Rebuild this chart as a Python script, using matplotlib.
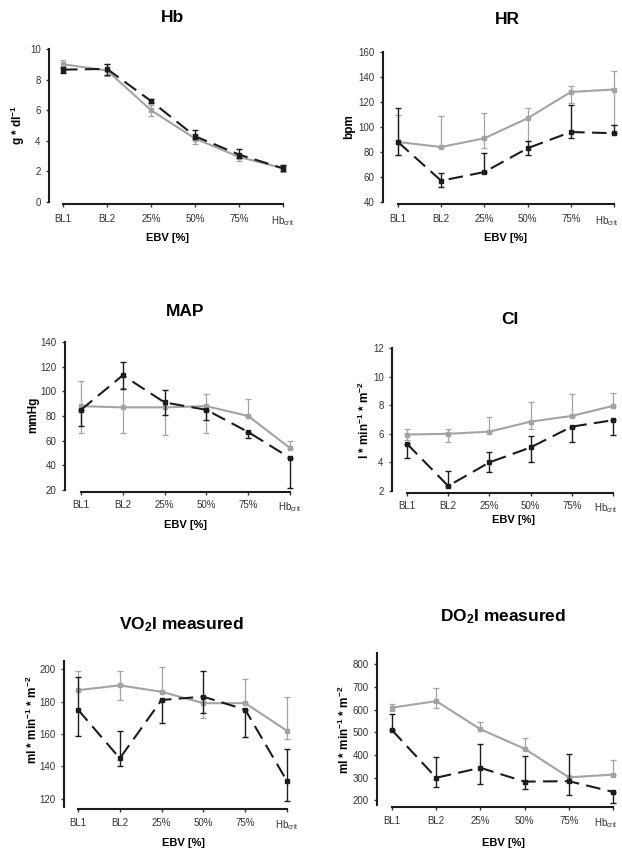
import matplotlib
matplotlib.use("Agg")
import matplotlib.pyplot as plt
import matplotlib.transforms as mtransforms

plt.rcParams['font.family'] = ['Liberation Sans', 'DejaVu Sans']
plt.rcParams['mathtext.fontset'] = 'custom'
plt.rcParams['mathtext.rm'] = 'Liberation Sans'
plt.rcParams['mathtext.it'] = 'Liberation Sans:italic'
plt.rcParams['mathtext.bf'] = 'Liberation Sans:bold'

categories = ['BL1', 'BL2', '25%', '50%', '75%', r'Hb$_{\mathrm{crit}}$']

# Hb [g/dl]
hb_black = [8.65, 8.7, 6.6, 4.3, 3.1, 2.2]
hb_black_lo = [0.25, 0.4, 0.15, 0.2, 0.2, 0.2]
hb_black_hi = [0.2, 0.3, 0.15, 0.4, 0.35, 0.2]
hb_gray = [9.0, 8.6, 6.0, 4.15, 2.95, 2.2]
hb_gray_lo = [0.3, 0.35, 0.4, 0.35, 0.25, 0.25]
hb_gray_hi = [0.3, 0.45, 0.35, 0.3, 0.2, 0.2]

# HR [bpm]
hr_black = [88, 57, 64, 83, 96, 95]
hr_black_lo = [10, 5, 0, 5, 5, 0]
hr_black_hi = [27, 6, 15, 6, 22, 7]
hr_gray = [88, 84, 91, 107, 128, 130]
hr_gray_lo = [10, 0, 8, 18, 9, 28]
hr_gray_hi = [22, 25, 20, 8, 5, 15]

# MAP [mmHg]
map_black = [85, 113, 91, 85, 67, 46]
map_black_lo = [13, 11, 10, 8, 5, 24]
map_black_hi = [0, 11, 10, 0, 0, 0]
map_gray = [88, 87, 87, 88, 80, 54]
map_gray_lo = [22, 21, 22, 22, 0, 0]
map_gray_hi = [20, 16, 0, 10, 14, 6]

# CI [l/min/m2]
ci_black = [5.3, 2.35, 4.0, 5.05, 6.5, 6.95]
ci_black_lo = [1.0, 0.0, 0.7, 1.0, 1.05, 1.05]
ci_black_hi = [0.0, 1.05, 0.75, 0.8, 0.0, 0.0]
ci_gray = [5.95, 6.0, 6.15, 6.85, 7.25, 7.95]
ci_gray_lo = [0.4, 0.55, 0.0, 0.5, 0.0, 0.0]
ci_gray_hi = [0.4, 0.35, 1.0, 1.35, 1.5, 0.9]

# VO2I [ml/min/m2]
vo2_black = [175, 145, 181, 183, 175, 131]
vo2_black_lo = [16, 5, 14, 10, 17, 12]
vo2_black_hi = [20, 17, 0, 16, 0, 20]
vo2_gray = [187, 190, 186, 179, 179, 162]
vo2_gray_lo = [0, 9, 0, 9, 0, 5]
vo2_gray_hi = [12, 9, 15, 0, 15, 21]

# DO2I [ml/min/m2]
do2_black = [510, 300, 344, 283, 285, 238]
do2_black_lo = [0, 39, 70, 32, 60, 48]
do2_black_hi = [70, 92, 105, 111, 120, 0]
do2_gray = [609, 638, 514, 428, 302, 314]
do2_gray_lo = [15, 32, 0, 0, 0, 0]
do2_gray_hi = [15, 58, 31, 46, 0, 63]

W, H = 622, 850
fig = plt.figure(figsize=(W / 100, H / 100), dpi=100)

GRAY = '#a3a3a3'
BLACK = '#1c1c1c'


def panel(layout, title, ylabel, yticks, black, blo, bhi, gray, glo, ghi):
    left, bl1, hbx, top, bot, ylim, title_xy, ylab_xy, xlab_xy, pad = layout
    step = (hbx - bl1) / 5
    xmin = -(bl1 - left) / step
    xmax = 5.15
    right = hbx + 0.15 * step
    ax = fig.add_axes([left / W, (H - bot) / H, (right - left) / W, (bot - top) / H])
    x = list(range(len(categories)))

    ax.errorbar(x, gray, yerr=[glo, ghi], fmt='none', ecolor=GRAY,
                elinewidth=0.9, capsize=2, capthick=0.9, zorder=2)
    ax.plot(x, gray, color=GRAY, lw=1.5, marker='s', ms=3.5,
            mfc=GRAY, mec=GRAY, zorder=3)
    ax.errorbar(x, black, yerr=[blo, bhi], fmt='none', ecolor=BLACK,
                elinewidth=1.0, capsize=2, capthick=1.0, zorder=4)
    ax.plot(x, black, color=BLACK, lw=1.5, ls=(0, (7, 3.5)), marker='s', ms=3,
            mfc=BLACK, mec=BLACK, zorder=5)

    ax.set_xlim(xmin, xmax)
    ax.set_ylim(*ylim)
    ax.set_xticks(x)
    ax.set_xticklabels(categories)
    ax.set_yticks(yticks)
    for s in ['top', 'right']:
        ax.spines[s].set_visible(False)
    for s in ['left', 'bottom']:
        ax.spines[s].set_linewidth(1.5)
        ax.spines[s].set_color(BLACK)
    ax.spines['bottom'].set_position(('outward', 1.5))
    ax.spines['bottom'].set_bounds(0, 5)
    ax.tick_params(axis='both', labelsize=7, colors='#333333',
                   direction='out', length=2.5, width=1)
    ax.tick_params(axis='x', pad=pad)

    # keep the last category label inside the picture on the right column
    if left > W / 2:
        lab = ax.get_xticklabels()[-1]
        lab.set_transform(lab.get_transform() +
                          mtransforms.ScaledTranslation(-0.07, 0, fig.dpi_scale_trans))

    fig.text(title_xy[0] / W, 1 - title_xy[1] / H, title, fontsize=12.5,
             fontweight='bold', ha='center', va='center')
    fig.text(ylab_xy[0] / W, 1 - ylab_xy[1] / H, ylabel, fontsize=8.5,
             fontweight='bold', ha='center', va='center', rotation=90)
    fig.text(xlab_xy[0] / W, 1 - xlab_xy[1] / H, 'EBV [%]', fontsize=8,
             fontweight='bold', ha='center', va='center')
    return ax


panel((49, 63, 283, 49, 202, (0, 10), (173, 18), (18, 125), (168, 238), 5),
      'Hb', r'g * dl$^{\mathbf{-1}}$', range(0, 11, 2),
      hb_black, hb_black_lo, hb_black_hi, hb_gray, hb_gray_lo, hb_gray_hi)
panel((383, 398, 614, 52, 202, (40, 160), (507, 20), (349, 127), (505, 238), 5),
      'HR', 'bpm', range(40, 161, 20),
      hr_black, hr_black_lo, hr_black_hi, hr_gray, hr_gray_lo, hr_gray_hi)
panel((65, 81, 290, 342, 490, (20, 140), (185, 311), (33, 415), (185, 525), 3.5),
      'MAP', 'mmHg', range(20, 141, 20),
      map_black, map_black_lo, map_black_hi, map_gray, map_gray_lo, map_gray_hi)
panel((392, 407, 613, 348, 491, (2, 12), (510, 319), (364, 420), (514, 520), 3),
      'CI', r'l * min$^{\mathbf{-1}}$ * m$^{\mathbf{-2}}$', range(2, 13, 2),
      ci_black, ci_black_lo, ci_black_hi, ci_gray, ci_gray_lo, ci_gray_hi)
panel((64, 78, 287, 661, 807, (115, 205), (182, 625), (32, 720), (183, 843), 4),
      r'VO$_{\mathbf{2}}$I measured', r'ml * min$^{\mathbf{-1}}$ * m$^{\mathbf{-2}}$',
      range(120, 201, 20),
      vo2_black, vo2_black_lo, vo2_black_hi, vo2_gray, vo2_gray_lo, vo2_gray_hi)
panel((377, 392, 613, 653, 805, (180, 850), (503, 617), (344, 730), (503, 843), 4),
      r'DO$_{\mathbf{2}}$I measured', r'ml * min$^{\mathbf{-1}}$ * m$^{\mathbf{-2}}$',
      range(200, 801, 100),
      do2_black, do2_black_lo, do2_black_hi, do2_gray, do2_gray_lo, do2_gray_hi)

fig.savefig('out.png', dpi=100)
